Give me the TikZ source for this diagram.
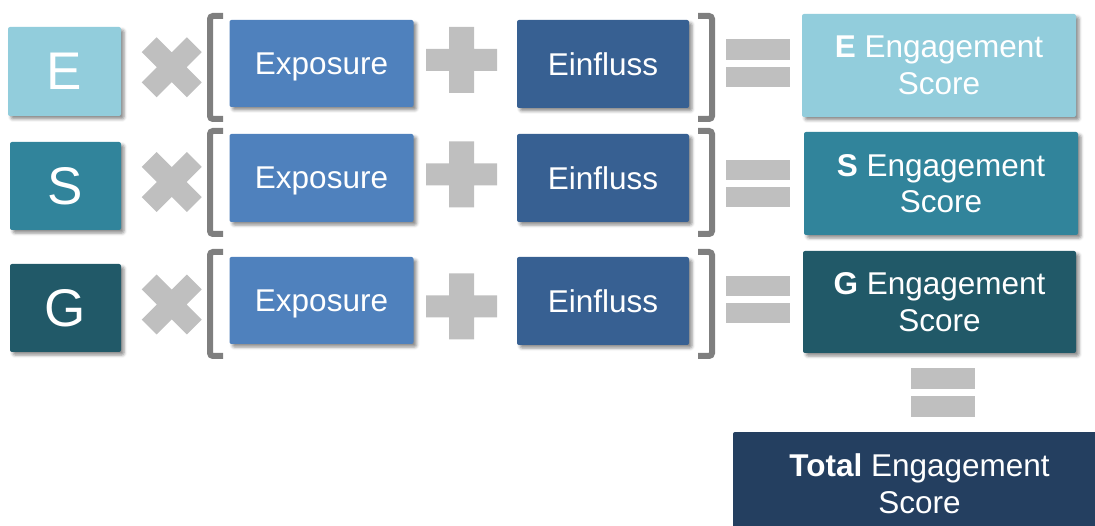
\documentclass[tikz,border=0pt]{standalone}
\usepackage{fontspec}
\setmainfont{Liberation Sans}
\usetikzlibrary{shadows.blur}
\definecolor{cE}{HTML}{92CDDC}
\definecolor{cS}{HTML}{31849B}
\definecolor{cG}{HTML}{215968}
\definecolor{cExp}{HTML}{4F81BD}
\definecolor{cEin}{HTML}{376092}
\definecolor{cTot}{HTML}{243F60}
\definecolor{opgray}{HTML}{BFBFBF}
\definecolor{brgray}{HTML}{7F7F7F}
\tikzset{
  card/.style={rounded corners=2pt, text=white, inner sep=0pt, align=center,
    blur shadow={shadow xshift=3pt, shadow yshift=-3pt, shadow blur radius=3pt, shadow opacity=45}},
  letterbox/.style={card, font=\fontsize{53}{60}\selectfont, text depth=0pt},
  termbox/.style={card, font=\fontsize{31.5}{36}\selectfont, text depth=0pt},
  resbox/.style={card, font=\fontsize{31.5}{36.5}\selectfont},
  brk/.style={draw=brgray, line width=6pt, rounded corners=3pt},
  opfill/.style={fill=opgray},
}
\begin{document}
\begin{tikzpicture}[x=1pt,y=-1pt]
\useasboundingbox (0,0) rectangle (1095,526);
% letter boxes
\node[letterbox, fill=cE, minimum width=113pt, minimum height=89pt] (lE) at (64.5,71.5) {E};
\node[letterbox, fill=cS, minimum width=111pt, minimum height=88pt] (lS) at (65.5,186) {S};
\node[letterbox, fill=cG, minimum width=111pt, minimum height=88pt] (lG) at (65.5,308) {G};
% exposure boxes
\node[termbox, fill=cExp, minimum width=184pt, minimum height=87pt] (x1) at (321.5,63.5) {Exposure};
\node[termbox, fill=cExp, minimum width=184pt, minimum height=88pt] (x2) at (321.5,178) {Exposure};
\node[termbox, fill=cExp, minimum width=184pt, minimum height=87pt] (x3) at (321.5,300.5) {Exposure};
% einfluss boxes
\node[termbox, fill=cEin, minimum width=172pt, minimum height=88pt] (i1) at (603,64) {Einfluss};
\node[termbox, fill=cEin, minimum width=172pt, minimum height=88pt] (i2) at (603,178) {Einfluss};
\node[termbox, fill=cEin, minimum width=172pt, minimum height=88pt] (i3) at (603,301) {Einfluss};
% result boxes
\node[resbox, fill=cE, minimum width=274pt, minimum height=103pt] (r1) at (939,65.5) {\textbf{E} Engagement\\Score};
\node[resbox, fill=cS, minimum width=274pt, minimum height=103pt] (r2) at (941,183.5) {\textbf{S} Engagement\\Score};
\node[resbox, fill=cG, minimum width=273pt, minimum height=102pt] (r3) at (939.5,302) {\textbf{G} Engagement\\Score};
\node[resbox, fill=cTot, minimum width=373pt, minimum height=103pt] (tot) at (919.5,483.5) {\textbf{Total} Engagement\\Score};
% multiply signs
\foreach \cy in {67.3,182,304.5}{
  \fill[opfill, shift={(171.7,\cy)}, rotate=45] (-31.9,-10.5) rectangle (31.9,10.5) (-10.5,-31.9) rectangle (10.5,31.9);
}
% plus signs
\foreach \cy in {60,174.5,306.5}{
  \fill[opfill, shift={(461.5,\cy)}] (-35.5,-11) rectangle (35.5,11) (-12.5,-33) rectangle (12.5,33);
}
% equals signs (horizontal)
\foreach \ya/\yb in {39/60,160/180,276/296}{
  \fill[opfill] (726,\ya) rectangle (790,\yb);
  \fill[opfill] (726,\yb+7.5) rectangle (790,\yb+27.5);
}
% vertical equals
\fill[opfill] (911,368) rectangle (975,389);
\fill[opfill] (911,396) rectangle (975,417);
% brackets
\foreach \ya/\yb in {16/119,131/234,252/356}{
  \draw[brk] (223,\ya) -- (210,\ya) -- (210,\yb) -- (223,\yb);
  \draw[brk] (698,\ya) -- (712,\ya) -- (712,\yb) -- (698,\yb);
}
\end{tikzpicture}
\end{document}
